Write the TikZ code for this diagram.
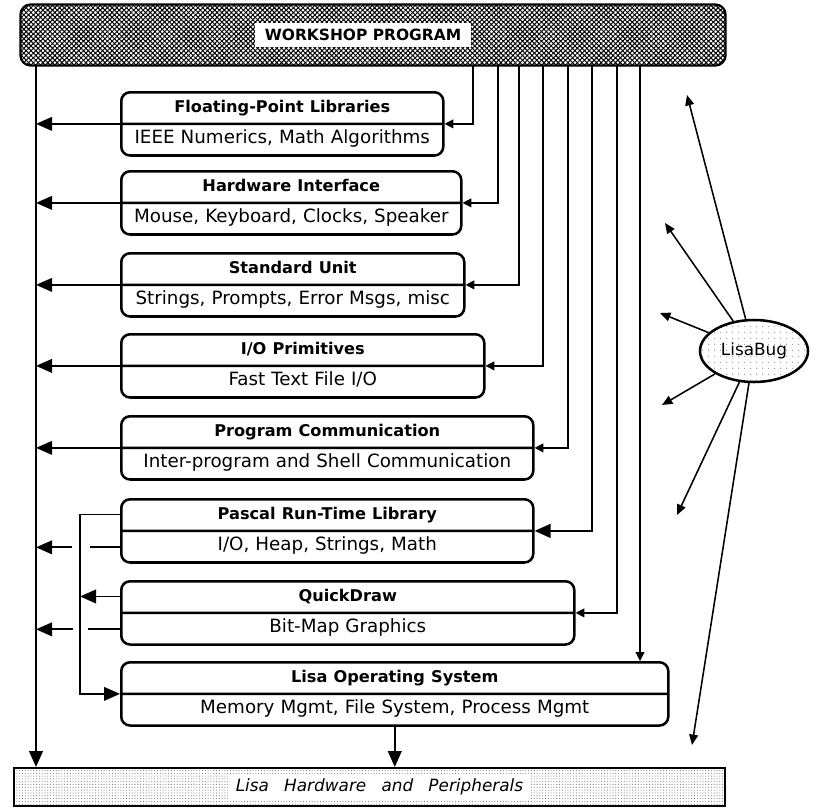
\documentclass[tikz,border=0pt]{standalone}
\usepackage{fontspec}
\setmainfont{DejaVu Sans}
\usetikzlibrary{arrows.meta,calc,shapes.multipart,shapes.geometric,patterns.meta}

\begin{document}
\begin{tikzpicture}[x=0.25mm, y=-0.25mm,
	module/.style={draw, line width=1.8pt, rounded corners=2.2mm, rectangle split, rectangle split parts=2,
		inner xsep=0pt, inner ysep=1mm, align=center, anchor=north west, font=\fontsize{13}{15}\selectfont},
	link/.style={line width=1.3pt},
	feed/.style={line width=0.9pt, -{Triangle[length=2.2mm, width=2.2mm]}},
	bigtip/.style={-{Triangle[length=4mm, width=3.4mm]}},
	bugarrow/.style={line width=1.1pt, -{Triangle[length=2.6mm, width=2.2mm]}}]
	\useasboundingbox (0,0) rectangle (819,807);

	\node [draw, line width=1.6pt, rounded corners=2.5mm, pattern={Hatch[angle=45, distance=2.4pt, line width=0.7pt]},
		minimum width=176.25mm, minimum height=15.25mm, anchor=north west] (wp) at (20,4) {};
	\node [fill=white, inner xsep=2.5mm, inner ysep=1.6mm, font=\bfseries\fontsize{11}{13}\selectfont] (wptext)
		at ([xshift=-2.5mm]wp.center) {WORKSHOP PROGRAM};

	\node [module, text width=80.5mm] (fp) at (120,91) {{\bfseries\fontsize{11.5}{15}\selectfont Floating-Point Libraries}\strut
		\nodepart{two} IEEE Numerics, Math Algorithms\strut};
	\node [module, text width=85mm] (hwi) at (120,170) {{\bfseries\fontsize{11.5}{15}\selectfont Hardware Interface}\strut
		\nodepart{two} Mouse, Keyboard, Clocks, Speaker\strut};
	\node [module, text width=85.75mm] (su) at (120,252) {{\bfseries\fontsize{11.5}{15}\selectfont Standard Unit}\strut
		\nodepart{two} Strings, Prompts, Error Msgs, misc\strut};
	\node [module, text width=90.75mm] (io) at (120,333) {{\bfseries\fontsize{11.5}{15}\selectfont I/O Primitives}\strut
		\nodepart{two} Fast Text File I/O\strut};
	\node [module, text width=103mm] (pc) at (120,415) {{\bfseries\fontsize{11.5}{15}\selectfont Program Communication}\strut
		\nodepart{two} Inter-program and Shell Communication\strut};
	\node [module, text width=103mm] (prt) at (120,498) {{\bfseries\fontsize{11.5}{15}\selectfont Pascal Run-Time Library}\strut
		\nodepart{two} I/O, Heap, Strings, Math\strut};
	\node [module, text width=113.25mm] (qd) at (120,580) {{\bfseries\fontsize{11.5}{15}\selectfont QuickDraw}\strut
		\nodepart{two} Bit-Map Graphics\strut};
	\node [module, text width=136.75mm] (los) at (120,661) {{\bfseries\fontsize{11.5}{15}\selectfont Lisa Operating System}\strut
		\nodepart{two} Memory Mgmt, File System, Process Mgmt\strut};

	\node [draw, line width=1.4pt, pattern={Dots[distance=2pt, radius=0.4pt]}, pattern color=gray,
		minimum width=177.75mm, minimum height=9.5mm, anchor=north west] (lisahw) at (13,767) {};
	\node [fill=white, inner xsep=2mm, inner ysep=1.2mm, font=\itshape\fontsize{12}{14}\selectfont] (lisahwtext)
		at ([xshift=2.5mm]lisahw.center) {Lisa\hspace{0.9em}Hardware\hspace{0.9em}and\hspace{0.9em}Peripherals};

	\node [draw, ellipse, line width=1.8pt, pattern={Dots[distance=4pt, radius=0.4pt]}, pattern color=gray,
		minimum width=27mm, minimum height=15.5mm] (bug) at (754,351) {};
	\node [font=\fontsize{12}{14}\selectfont] at (bug) {LisaBug};

	\coordinate (trunk) at (36,0 |- wp.south);
	\coordinate (prttop) at ($(prt.north west)!.5!(prt.text split west)$);
	\coordinate (prtbot) at ($(prt.text split west)!.5!(prt.south west)$);
	\coordinate (qdtop) at ($(qd.north west)!.5!(qd.text split west)$);
	\coordinate (qdbot) at ($(qd.text split west)!.5!(qd.south west)$);
	\coordinate (bus) at ([xshift=-10mm]prttop);

	\draw [link, line width=1.6pt, bigtip] (trunk) -- (trunk |- lisahw.north);
	\foreach \b in {fp,hwi,su,io,pc}
		\draw [link, bigtip] (\b.text split west) -- (\b.text split west -| trunk);
	\foreach \b/\x in {fp/473,hwi/498,su/519,io/543,pc/568,qd/617}
		\draw [feed] (\x,0 |- wp.south) |- (\b.text split east);
	\draw [link, line width=1.6pt, bigtip] (592,0 |- wp.south) |- (prt.text split east);
	\draw [feed] (640,0 |- wp.south) -- (640,0 |- los.north);

	\draw [link, bigtip] (prttop) -- (bus) |- (los.text split west);
	\draw [link, bigtip] (qdtop) -- (qdtop -| bus);
	\draw [link, bigtip] (prtbot) -- ++(-30,0) ++(-18,0) -- (prtbot -| trunk);
	\draw [link, bigtip] (qdbot) -- ++(-32,0) ++(-15,0) -- (qdbot -| trunk);
	\draw [link, line width=1.6pt, bigtip] (los.south) -- (los.south |- lisahw.north);

	\coordinate (bugtip1) at (687,95);
	\coordinate (bugtip2) at (665,223);
	\coordinate (bugtip3) at (660,313);
	\coordinate (bugtip4) at (662,405);
	\coordinate (bugtip5) at (677,515);
	\coordinate (bugtip6) at (692,745);
	\foreach \n in {1,...,6}
		\draw [bugarrow] (bug) -- (bugtip\n);
\end{tikzpicture}
\end{document}
